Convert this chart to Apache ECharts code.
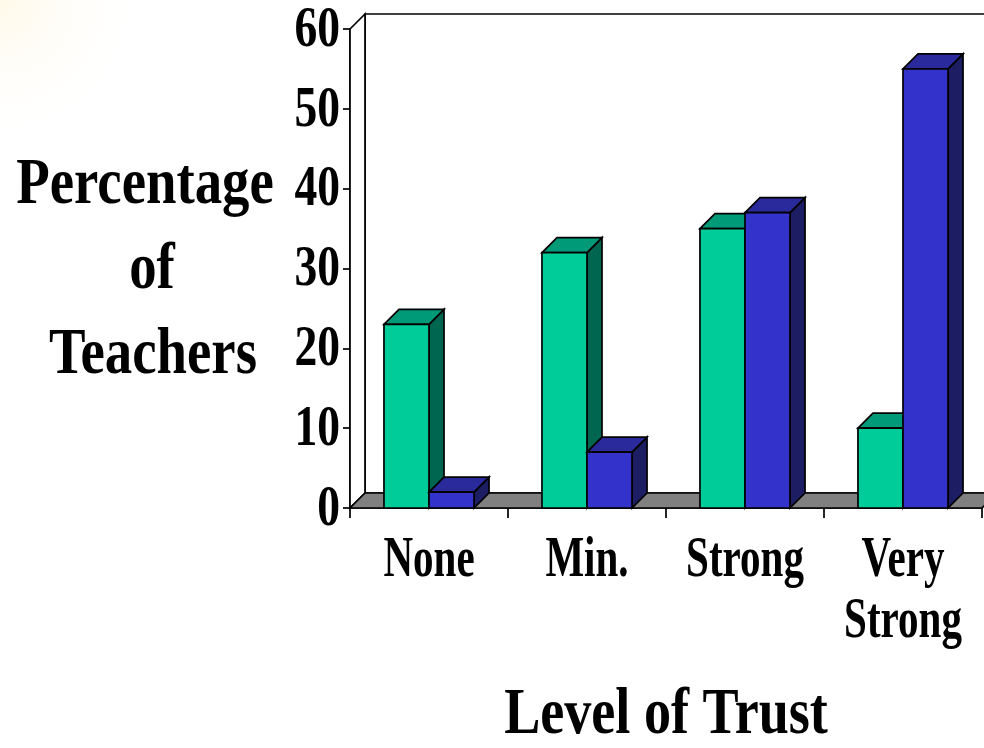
<!DOCTYPE html>
<html>
<head>
<meta charset="utf-8">
<script src="https://cdn.jsdelivr.net/npm/echarts@6/dist/echarts.min.js"></script>
<style>
  html, body { margin: 0; padding: 0; background: #ffffff; }
  #chart { width: 984px; height: 748px; }
</style>
</head>
<body>
<div id="chart"></div>
<script>
// Level of trust categories and percentage of teachers per group
const categories = ['None', 'Min.', 'Strong', 'Very\nStrong'];
const seriesGreen = [23, 32, 35, 10];
const seriesBlue = [2, 7, 37, 55];
const yTicks = [0, 10, 20, 30, 40, 50, 60];

const yTitleLines = ['Percentage', 'of', 'Teachers'];
const xTitle = 'Level of Trust';

// pseudo-3D depth of the bars, floor and walls (pixels)
const DEPTH_X = 15;
const DEPTH_Y = 15;
const BAR_RATIO = 0.285;      // bar width as a share of the category band
const FONT = "'Liberation Serif', 'Times New Roman', serif";
const OUTLINE = { stroke: '#000000', lineWidth: 1.7, lineJoin: 'miter' };

const greenColors = { front: '#00cc99', top: '#009a78', side: '#006650' };
const blueColors = { front: '#3333cc', top: '#2a2a9c', side: '#1d1d63' };

const chart = echarts.init(document.getElementById('chart'), null, { renderer: 'canvas' });

function pairs(values) {
  return values.map(function (v, i) { return [i, v]; });
}

// back wall, left side wall and grey floor of the 3D box
function renderFrame(params, api) {
  const cs = params.coordSys;
  const x = cs.x, y = cs.y, w = cs.width, h = cs.height;
  const b = y + h;
  return {
    type: 'group',
    children: [
      { type: 'rect', shape: { x: x + DEPTH_X, y: y - DEPTH_Y, width: w, height: h },
        style: Object.assign({ fill: '#ffffff' }, OUTLINE) },
      { type: 'polygon', shape: { points: [[x, b], [x, y], [x + DEPTH_X, y - DEPTH_Y], [x + DEPTH_X, b - DEPTH_Y]] },
        style: Object.assign({ fill: '#ffffff' }, OUTLINE) },
      { type: 'polygon', shape: { points: [[x, b], [x + w, b], [x + w + DEPTH_X, b - DEPTH_Y], [x + DEPTH_X, b - DEPTH_Y]] },
        style: Object.assign({ fill: '#808080' }, OUTLINE) }
    ]
  };
}

// one 3D column: side face, top face and front face
function barRenderer(colors, slot) {
  return function (params, api) {
    const idx = api.value(0);
    const val = api.value(1);
    const top = api.coord([idx, val]);
    const base = api.coord([idx, 0]);
    const w = api.size([1, 0])[0] * BAR_RATIO;
    const x0 = top[0] - w + slot * w;
    const yT = top[1], yB = base[1];
    return {
      type: 'group',
      children: [
        { type: 'polygon', shape: { points: [[x0 + w, yT], [x0 + w + DEPTH_X, yT - DEPTH_Y], [x0 + w + DEPTH_X, yB - DEPTH_Y], [x0 + w, yB]] },
          style: Object.assign({ fill: colors.side }, OUTLINE) },
        { type: 'polygon', shape: { points: [[x0, yT], [x0 + DEPTH_X, yT - DEPTH_Y], [x0 + w + DEPTH_X, yT - DEPTH_Y], [x0 + w, yT]] },
          style: Object.assign({ fill: colors.top }, OUTLINE) },
        { type: 'rect', shape: { x: x0, y: yT, width: w, height: yB - yT },
          style: Object.assign({ fill: colors.front }, OUTLINE) }
      ]
    };
  };
}

// value-axis tick labels in a condensed bold serif
function renderYLabel(params, api) {
  const v = api.value(1);
  const p = api.coord([0, v]);
  return {
    type: 'text',
    x: params.coordSys.x - 10, y: p[1] + 2,
    scaleX: 0.8,
    style: { text: String(v), font: 'bold 57px ' + FONT, fill: '#000', align: 'right', verticalAlign: 'middle' }
  };
}

// category labels, one text per line
function renderXLabel(params, api) {
  const idx = api.value(0);
  const p = api.coord([idx, 0]);
  const lines = categories[idx].split('\n');
  return {
    type: 'group',
    children: lines.map(function (line, i) {
      return {
        type: 'text',
        x: p[0], y: p[1] + 53 + i * 61,
        scaleX: 0.72,
        style: { text: line, font: 'bold 57px ' + FONT, fill: '#000', align: 'center', verticalAlign: 'middle' }
      };
    })
  };
}

const titleCenters = [[145, 186], [152, 271], [153, 356]];

const option = {
  backgroundColor: '#ffffff',
  animation: false,
  grid: { left: 350, right: 2, top: 29, bottom: 240, containLabel: false },
  xAxis: {
    type: 'category',
    data: categories,
    boundaryGap: true,
    axisLine: { show: true, lineStyle: { color: '#000', width: 1.7 } },
    axisTick: { show: true, length: 10, alignWithLabel: false, lineStyle: { color: '#000', width: 1.7 } },
    axisLabel: { show: false },
    splitLine: { show: false }
  },
  yAxis: {
    type: 'value',
    min: 0, max: 60, interval: 10,
    axisLine: { show: true, lineStyle: { color: '#000', width: 1.7 } },
    axisTick: { show: true, length: 7, lineStyle: { color: '#000', width: 1.7 } },
    axisLabel: { show: false },
    splitLine: { show: false }
  },
  graphic: [
    {
      type: 'rect', z: -10, silent: true,
      shape: { x: 0, y: 0, width: 260, height: 220 },
      style: { fill: new echarts.graphic.RadialGradient(0, 0, 150, [
        { offset: 0, color: 'rgba(255,238,190,0.35)' },
        { offset: 1, color: 'rgba(255,255,255,0)' }
      ], true) }
    }
  ].concat(yTitleLines.map(function (t, i) {
    return {
      type: 'text', x: titleCenters[i][0], y: titleCenters[i][1], scaleX: 0.83,
      style: { text: t, font: 'bold 66px ' + FONT, fill: '#000', align: 'center', verticalAlign: 'middle' }
    };
  })).concat([{
    type: 'text', x: 666, y: 716, scaleX: 0.82,
    style: { text: xTitle, font: 'bold 66px ' + FONT, fill: '#000', align: 'center', verticalAlign: 'middle' }
  }]),
  series: [
    { type: 'custom', name: 'frame', z: 1, clip: false, silent: true,
      data: [[0, 0]], renderItem: renderFrame },
    { type: 'custom', name: 'Series 1', z: 2, clip: false,
      encode: { x: 0, y: 1 }, data: pairs(seriesGreen), renderItem: barRenderer(greenColors, 0) },
    { type: 'custom', name: 'Series 2', z: 3, clip: false,
      encode: { x: 0, y: 1 }, data: pairs(seriesBlue), renderItem: barRenderer(blueColors, 1) },
    { type: 'custom', name: 'yLabels', z: 4, clip: false, silent: true,
      data: yTicks.map(function (v) { return [0, v]; }), renderItem: renderYLabel },
    { type: 'custom', name: 'xLabels', z: 4, clip: false, silent: true,
      data: categories.map(function (c, i) { return [i, 0]; }), renderItem: renderXLabel }
  ]
};

chart.setOption(option);
</script>
</body>
</html>
